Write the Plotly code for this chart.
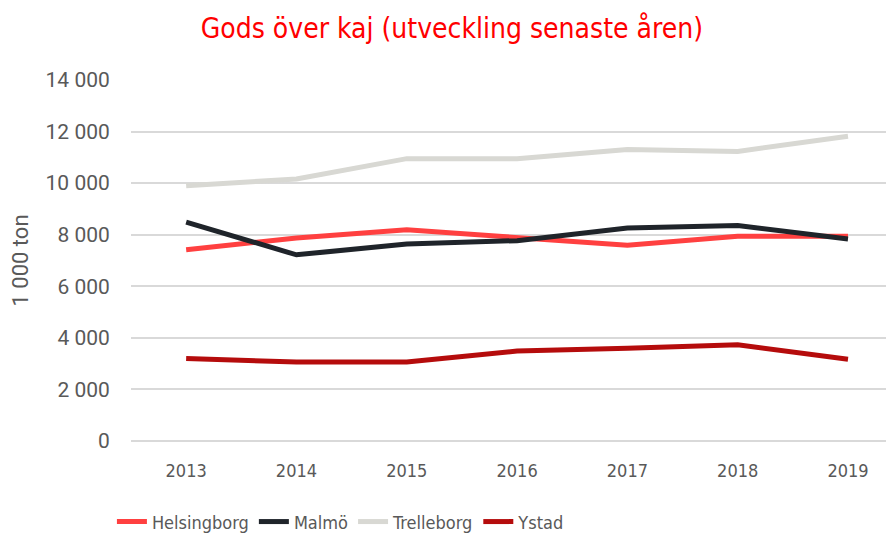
import plotly.graph_objects as go

years = ["2013", "2014", "2015", "2016", "2017", "2018", "2019"]
helsingborg = [7420, 7870, 8190, 7910, 7590, 7940, 7940]
malmo = [8490, 7220, 7640, 7770, 8260, 8360, 7830]
trelleborg = [9900, 10160, 10950, 10950, 11300, 11230, 11820]
ystad = [3200, 3060, 3060, 3490, 3600, 3730, 3170]

series = [
    ("Helsingborg", helsingborg, "#ff4040"),
    ("Malmö", malmo, "#1f242a"),
    ("Trelleborg", trelleborg, "#d8d8d3"),
    ("Ystad", ystad, "#b50c0c"),
]

narrow = "DejaVu Sans Condensed"

fig = go.Figure()
for name, vals, col in series:
    fig.add_trace(go.Scatter(x=years, y=vals, name=name, mode="lines",
                             line=dict(color=col, width=5)))

fig.update_layout(
    width=886, height=530,
    paper_bgcolor="white", plot_bgcolor="white",
    margin=dict(l=123, r=0, t=72, b=97, autoexpand=False),
    separators=", ",
    title=dict(text="Gods över kaj (utveckling senaste åren)", x=0.501, xanchor="center",
               y=0.962, yanchor="middle",
               font=dict(family=narrow, size=28, color="#ff0000")),
    legend=dict(orientation="h", x=-0.025, xanchor="left", y=-0.224, yanchor="middle",
                font=dict(family=narrow, size=18, color="#595959"),
                itemwidth=30, tracegroupgap=0),
    showlegend=True,
)
fig.update_xaxes(type="category", range=[-0.5, 6.417], showgrid=False, showline=False,
                 automargin=False,
                 ticks="outside", ticklen=13, tickcolor="rgba(0,0,0,0)",
                 tickfont=dict(family=narrow, size=18, color="#595959"))
fig.update_yaxes(range=[0, 14000], dtick=2000, tickformat=",d", automargin=False,
                 showgrid=True, gridcolor="#d9d9d9", gridwidth=1.5,
                 zeroline=True, zerolinecolor="#d9d9d9", zerolinewidth=1.5,
                 ticks="outside", ticklen=16, tickcolor="rgba(0,0,0,0)",
                 tickfont=dict(family="Roboto", size=21, color="#595959"),
                 title=dict(text="1 000 ton", standoff=14,
                            font=dict(family="Roboto", size=22, color="#595959")))

fig.write_html("out.html")
